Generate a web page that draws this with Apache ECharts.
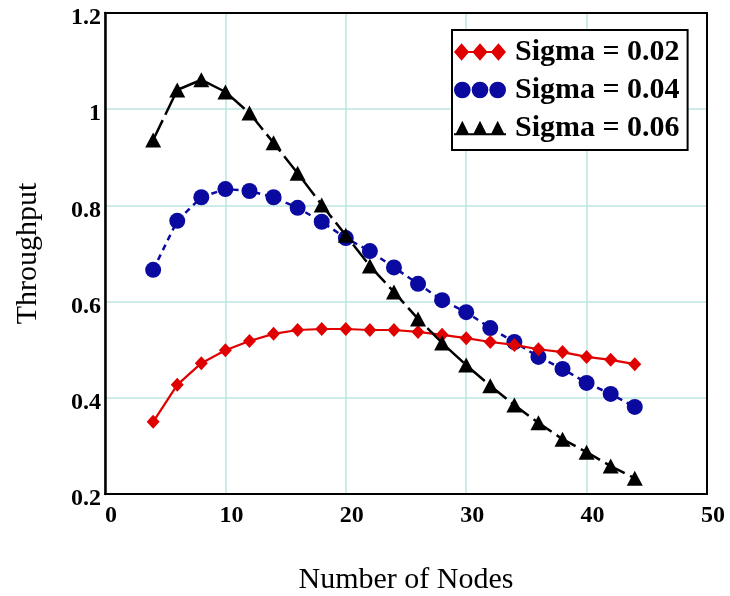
<!DOCTYPE html>
<html>
<head>
<meta charset="utf-8">
<script src="https://cdn.jsdelivr.net/npm/echarts@6/dist/echarts.min.js"></script>
<style>
html,body{margin:0;padding:0;background:#fff;}
#chart{width:730px;height:596px;}
</style>
</head>
<body>
<div id="chart"></div>
<script>
var nodes = [4,6,8,10,12,14,16,18,20,22,24,26,28,30,32,34,36,38,40,42,44];
var sigma002 = [0.350,0.427,0.472,0.499,0.518,0.533,0.541,0.543,0.543,0.541,0.541,0.537,0.531,0.524,0.516,0.510,0.501,0.495,0.485,0.479,0.470];
var sigma004 = [0.666,0.768,0.817,0.834,0.830,0.817,0.795,0.766,0.732,0.705,0.671,0.637,0.603,0.578,0.545,0.516,0.485,0.460,0.431,0.408,0.381];
var sigma006 = [0.936,1.040,1.061,1.036,0.992,0.930,0.867,0.801,0.738,0.674,0.620,0.564,0.514,0.468,0.425,0.385,0.348,0.314,0.287,0.258,0.233];
var seriesNames = ['Sigma = 0.02','Sigma = 0.04','Sigma = 0.06'];
var xTicks = [0,10,20,30,40,50];
var yTicks = [0.2,0.4,0.6,0.8,1,1.2];

function pairs(vals){ return nodes.map(function(n,i){ return [n, vals[i]]; }); }

var FONT = 'Liberation Serif';
var iconDiamonds = 'path://M1 9 L8 1 L15 9 L8 17 Z M18 9 L25 1 L32 9 L25 17 Z M35 9 L42 1 L49 9 L42 17 Z M8 8 L42 8 L42 10 L8 10 Z';
var iconCircles = 'path://M0 9 A8 8 0 1 1 16 9 A8 8 0 1 1 0 9 Z M17 9 A8 8 0 1 1 33 9 A8 8 0 1 1 17 9 Z M34 9 A8 8 0 1 1 50 9 A8 8 0 1 1 34 9 Z';
var iconTriangles = 'path://M1 17 L8 3 L15 17 Z M18 17 L25 3 L32 17 Z M35 17 L42 3 L49 17 Z M0 15 L50 15 L50 17 L0 17 Z';

function frameAxis(extra){
  return Object.assign({ type: 'value', show: true,
    axisLine: { show: true, onZero: false, lineStyle: { color: '#000', width: 2 } },
    axisTick: { show: false }, axisLabel: { show: false }, splitLine: { show: false } }, extra);
}

var chart = echarts.init(document.getElementById('chart'));
chart.setOption({
  backgroundColor: '#fff',
  animation: false,
  grid: { left: 105, right: 23, top: 13, bottom: 102, containLabel: false, outerBoundsMode: 'none',
          show: true, borderColor: '#000', borderWidth: 2, backgroundColor: '#fff' },
  legend: {
    orient: 'vertical',
    left: 452, top: 30,
    padding: [7, 8, 7, 2],
    itemWidth: 52, itemHeight: 18, itemGap: 8,
    borderColor: '#000', borderWidth: 2, backgroundColor: '#fff',
    textStyle: { fontFamily: FONT, fontSize: 30, fontWeight: 'bold', color: '#000', padding: [0,0,0,4] },
    data: [
      { name: seriesNames[0], icon: iconDiamonds },
      { name: seriesNames[1], icon: iconCircles },
      { name: seriesNames[2], icon: iconTriangles }
    ]
  },
  xAxis: [{
    type: 'value', min: xTicks[0], max: xTicks[xTicks.length-1], interval: 10,
    name: 'Number of Nodes', nameLocation: 'middle', nameGap: 71,
    nameTextStyle: { fontFamily: FONT, fontSize: 30, color: '#000' },
    axisLine: { show: true, onZero: false, lineStyle: { color: '#000', width: 2 } },
    axisTick: { show: false },
    axisLabel: { fontFamily: FONT, fontSize: 24, fontWeight: 'bold', color: '#000', margin: 10, padding: [0,0,0,12] },
    splitLine: { show: true, lineStyle: { color: '#bde4e1', width: 1.5 } }
  }, frameAxis({ position: 'top', min: xTicks[0], max: xTicks[xTicks.length-1], interval: 10 })],
  yAxis: [{
    type: 'value', min: yTicks[0], max: yTicks[yTicks.length-1], interval: 0.2,
    name: 'Throughput', nameLocation: 'middle', nameGap: 62,
    nameTextStyle: { fontFamily: FONT, fontSize: 30, color: '#000' },
    axisLine: { show: true, onZero: false, lineStyle: { color: '#000', width: 2.5 } },
    axisTick: { show: false },
    axisLabel: { fontFamily: FONT, fontSize: 24, fontWeight: 'bold', color: '#000', margin: 4, verticalAlign: 'top', lineHeight: 10 },
    splitLine: { show: true, lineStyle: { color: '#bde4e1', width: 1.5 } }
  }, frameAxis({ position: 'right', min: yTicks[0], max: yTicks[yTicks.length-1], interval: 0.2 })],
  series: [
    { name: seriesNames[0], type: 'line', data: pairs(sigma002), symbol: 'diamond', symbolSize: [13,14],
      itemStyle: { color: '#e00000' }, lineStyle: { color: '#e00000', width: 2.2, type: 'solid' }, z: 3 },
    { name: seriesNames[1], type: 'line', data: pairs(sigma004), symbol: 'circle', symbolSize: 16,
      itemStyle: { color: '#0a0aa0' }, lineStyle: { color: '#0a0aa0', width: 2.5, type: [6,5] }, z: 2 },
    { name: seriesNames[2], type: 'line', data: pairs(sigma006), symbol: 'triangle', symbolSize: [16,15],
      itemStyle: { color: '#000' }, lineStyle: { color: '#000', width: 2.5, type: [22,6] }, z: 4 }
  ]
});
</script>
</body>
</html>
